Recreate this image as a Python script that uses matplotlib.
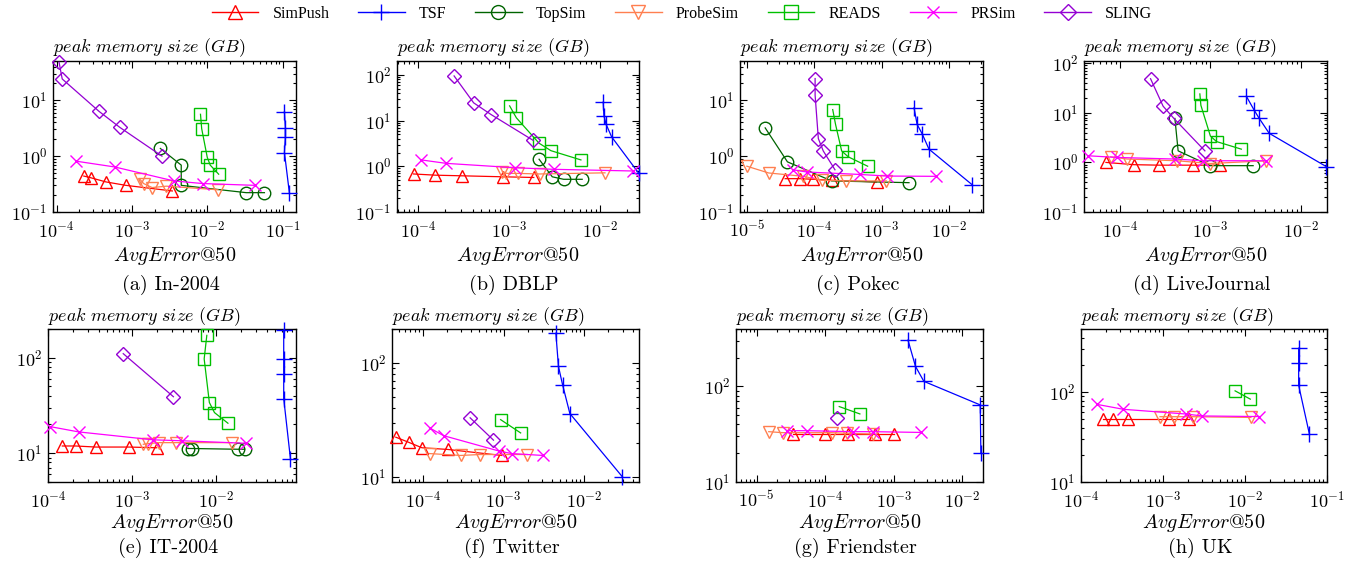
import math
import matplotlib
matplotlib.use("Agg")
import matplotlib.pyplot as plt
from matplotlib.ticker import LogLocator, NullFormatter, FuncFormatter
from matplotlib.lines import Line2D

plt.rcParams['mathtext.fontset'] = 'cm'
plt.rcParams['axes.unicode_minus'] = False

# ---------------------------------------------------------------------------
# data: AvgError@50 (x) and peak memory in GB (y), per dataset and method
# ---------------------------------------------------------------------------
methods = ["SimPush", "TSF", "TopSim", "ProbeSim", "READS", "PRSim", "SLING"]

in2004_err = {
    "SimPush": [2.3e-4, 2.85e-4, 4.5e-4, 8.3e-4, 3.43e-3],
    "TSF": [0.105, 0.108, 0.108, 0.105, 0.122],
    "TopSim": [2.38e-3, 4.5e-3, 4.5e-3, 0.0327, 0.057],
    "ProbeSim": [1.27e-3, 1.43e-3, 1.85e-3, 2.86e-3, 0.0138],
    "READS": [8.1e-3, 8.4e-3, 9.96e-3, 0.0109, 0.0141],
    "PRSim": [1.84e-4, 5.9e-4, 3.6e-3, 8.7e-3, 0.043],
    "SLING": [1.08e-4, 1.19e-4, 3.67e-4, 6.9e-4, 2.5e-3],
}
in2004_mem = {
    "SimPush": [0.44, 0.41, 0.346, 0.30, 0.238],
    "TSF": [6.25, 3.2, 2.2, 1.16, 0.222],
    "TopSim": [1.37, 0.69, 0.30, 0.222, 0.222],
    "ProbeSim": [0.387, 0.323, 0.274, 0.29, 0.25],
    "READS": [5.6, 3.1, 0.95, 0.69, 0.475],
    "PRSim": [0.81, 0.64, 0.36, 0.323, 0.30],
    "SLING": [48, 24, 6.3, 3.27, 1.0],
}

dblp_err = {
    "SimPush": [8.96e-5, 1.56e-4, 3.05e-4, 8.6e-4, 1.88e-3],
    "TSF": [0.0109, 0.0111, 0.0117, 0.0135, 0.0269],
    "TopSim": [2.15e-3, 3.0e-3, 4.0e-3, 6.4e-3],
    "ProbeSim": [8.5e-4, 9.4e-4, 1.26e-3, 2.18e-3, 0.0114],
    "READS": [1.02e-3, 1.21e-3, 2.15e-3, 2.9e-3, 6.2e-3],
    "PRSim": [1.09e-4, 2.05e-4, 1.18e-3, 3.1e-3, 0.0233],
    "SLING": [2.5e-4, 4.1e-4, 6.4e-4, 1.85e-3],
}
dblp_mem = {
    "SimPush": [0.68, 0.64, 0.62, 0.59, 0.57],
    "TSF": [25.4, 12.9, 8.4, 4.4, 0.70],
    "TopSim": [1.43, 0.59, 0.52, 0.52],
    "ProbeSim": [0.76, 0.70, 0.70, 0.68, 0.72],
    "READS": [21, 11.5, 3.2, 2.2, 1.38],
    "PRSim": [1.38, 1.16, 0.93, 0.86, 0.79],
    "SLING": [95, 24.5, 13.5, 3.7],
}

pokec_err = {
    "SimPush": [3.7e-5, 6.2e-5, 9.7e-5, 1.81e-4, 8.4e-4],
    "TSF": [3.03e-3, 3.36e-3, 3.98e-3, 5.05e-3, 0.0219],
    "TopSim": [1.87e-5, 4.0e-5, 1.81e-4, 2.55e-3],
    "ProbeSim": [1.0e-5, 2.1e-5, 6.9e-5, 1.29e-4, 3.0e-4, 1.18e-3],
    "READS": [1.88e-4, 2.07e-4, 2.55e-4, 3.2e-4, 6.2e-4],
    "PRSim": [4.8e-5, 7.7e-5, 4.75e-4, 1.21e-3, 6.5e-3],
    "SLING": [1.03e-4, 1.03e-4, 1.15e-4, 1.36e-4, 2.03e-4],
}
pokec_mem = {
    "SimPush": [0.395, 0.395, 0.385, 0.37, 0.345],
    "TSF": [7.3, 3.7, 2.53, 1.33, 0.31],
    "TopSim": [3.2, 0.79, 0.36, 0.335],
    "ProbeSim": [0.66, 0.50, 0.435, 0.37, 0.36, 0.36],
    "READS": [6.8, 3.7, 1.24, 0.97, 0.66],
    "PRSim": [0.57, 0.52, 0.47, 0.44, 0.435],
    "SLING": [24.4, 12.3, 2.06, 1.24, 0.57],
}

lj_err = {
    "SimPush": [7.0e-5, 1.43e-4, 2.72e-4, 6.46e-4, 1.27e-3],
    "TSF": [2.5e-3, 3.05e-3, 3.47e-3, 4.47e-3, 0.0192],
    "TopSim": [4.05e-4, 4.4e-4, 9.9e-4, 2.97e-3],
    "ProbeSim": [7.9e-5, 1.2e-4, 4.3e-4, 9.9e-4, 4.17e-3],
    "READS": [7.65e-4, 7.85e-4, 1.0e-3, 1.17e-3, 2.2e-3],
    "PRSim": [4.47e-5, 9.2e-5, 4.05e-4, 8.3e-4, 4.1e-3],
    "SLING": [2.18e-4, 3.0e-4, 3.95e-4, 8.7e-4],
}
lj_mem = {
    "SimPush": [1.0, 0.9, 0.88, 0.88, 0.88],
    "TSF": [21.5, 11.3, 7.7, 3.86, 0.82],
    "TopSim": [7.7, 1.71, 0.86, 0.86],
    "ProbeSim": [1.3, 1.17, 1.08, 0.95, 1.08],
    "READS": [24, 14.2, 3.4, 2.63, 1.85],
    "PRSim": [1.36, 1.26, 1.17, 1.08, 1.08],
    "SLING": [48.6, 13.6, 7.7, 1.71],
}

it2004_err = {
    "SimPush": [1.48e-4, 2.14e-4, 3.7e-4, 9.2e-4, 1.96e-3],
    "TSF": [0.0636, 0.0636, 0.0636, 0.0636, 0.0764],
    "TopSim": [4.6e-3, 5.1e-3, 0.018, 0.0218],
    "ProbeSim": [1.36e-3, 1.56e-3, 2.11e-3, 3.33e-3, 0.0154],
    "READS": [7.74e-3, 7.2e-3, 8.3e-3, 9.55e-3, 0.0138],
    "PRSim": [1.05e-4, 2.32e-4, 1.79e-3, 3.9e-3, 0.0228],
    "SLING": [7.85e-4, 3.1e-3],
}
it2004_mem = {
    "SimPush": [11.9, 11.9, 11.6, 11.6, 11.4],
    "TSF": [195, 97.7, 67, 37.3, 8.8],
    "TopSim": [11.2, 11.2, 11.0, 11.0],
    "ProbeSim": [12.4, 12.6, 12.9, 12.9, 12.9],
    "READS": [171, 97, 33.9, 26.6, 20.6],
    "PRSim": [19, 16.7, 13.8, 13.5, 12.7],
    "SLING": [110, 39],
}

twitter_err = {
    "SimPush": [4.6e-5, 6.65e-5, 9.7e-5, 2.02e-4, 9.5e-4],
    "TSF": [4.46e-3, 4.8e-3, 5.4e-3, 6.65e-3, 0.0298],
    "TopSim": [],
    "ProbeSim": [1.21e-4, 2.95e-4, 5.1e-4, 1.97e-3],
    "READS": [9.2e-4, 1.63e-3],
    "PRSim": [1.21e-4, 1.8e-4, 8.9e-4, 1.26e-3, 3.1e-3],
    "SLING": [3.85e-4, 7.5e-4],
}
twitter_mem = {
    "SimPush": [22.3, 20.1, 18.0, 17.4, 15.4],
    "TSF": [183, 93.5, 64.5, 36, 10],
    "TopSim": [],
    "ProbeSim": [16.0, 15.4, 15.7, 15.7],
    "READS": [31.8, 24.3],
    "PRSim": [26.9, 23, 16.8, 16.0, 15.4],
    "SLING": [33, 21],
}

friendster_err = {
    "SimPush": [3.4e-5, 9.9e-5, 2.17e-4, 5.3e-4, 9.9e-4],
    "TSF": [1.61e-3, 2.07e-3, 2.74e-3, 0.0182, 0.0186],
    "TopSim": [],
    "ProbeSim": [1.5e-5, 2.4e-5, 1.24e-4, 2.05e-4, 5.05e-4],
    "READS": [1.6e-4, 3.2e-4],
    "PRSim": [2.79e-5, 5.4e-5, 2.57e-4, 4.94e-4, 2.45e-3],
    "SLING": [1.46e-4],
}
friendster_mem = {
    "SimPush": [31.5, 31.5, 31.5, 31.5, 31.5],
    "TSF": [305, 162, 113, 64, 20.2],
    "TopSim": [],
    "ProbeSim": [33.6, 32.8, 32.8, 32.3, 31.8],
    "READS": [61.5, 51.5],
    "PRSim": [34.4, 34.4, 33.6, 33.6, 33],
    "SLING": [47.2],
}

uk_err = {
    "SimPush": [1.86e-4, 2.46e-4, 3.72e-4, 1.18e-3, 2.07e-3],
    "TSF": [0.0451, 0.0451, 0.0451, 0.0608],
    "TopSim": [],
    "ProbeSim": [9.2e-4, 1.36e-3, 2.34e-3, 0.0118],
    "READS": [7.57e-3, 0.0116],
    "PRSim": [1.57e-4, 3.3e-4, 1.89e-3, 3.02e-3, 0.0149],
    "SLING": [],
}
uk_mem = {
    "SimPush": [50, 50, 50, 50, 50],
    "TSF": [305, 210, 118, 34.3],
    "TopSim": [],
    "ProbeSim": [53, 53, 53, 52],
    "READS": [102.6, 83],
    "PRSim": [72.6, 64, 56.8, 54, 53.2],
    "SLING": [],
}

captions = ["(a) In-2004", "(b) DBLP", "(c) Pokec", "(d) LiveJournal",
            "(e) IT-2004", "(f) Twitter", "(g) Friendster", "(h) UK"]

# ---------------------------------------------------------------------------
# styles and layout
# ---------------------------------------------------------------------------
style = {
    "SimPush": dict(color="#ff0000", marker="^", ms=9),
    "TSF": dict(color="#0000ff", marker="+", ms=11),
    "TopSim": dict(color="#006400", marker="o", ms=9),
    "ProbeSim": dict(color="#ff7f50", marker="v", ms=9),
    "READS": dict(color="#00c000", marker="s", ms=9),
    "PRSim": dict(color="#ff00ff", marker="x", ms=8),
    "SLING": dict(color="#9400d3", marker="D", ms=7),
}

panels = [
    (in2004_err, in2004_mem, [0.0389, 0.6234, 0.1782, 0.268], (9e-5, 0.15), (0.1, 50)),
    (dblp_err, dblp_mem, [0.2911, 0.6234, 0.1774, 0.268], (5.9e-5, 0.027), (0.1, 200)),
    (pokec_err, pokec_mem, [0.5425, 0.6234, 0.1782, 0.268], (7.9e-6, 0.032), (0.1, 50)),
    (lj_err, lj_mem, [0.7947, 0.6234, 0.1782, 0.268], (4e-5, 0.0195), (0.1, 110)),
    (it2004_err, it2004_mem, [0.0352, 0.1439, 0.1818, 0.272], (1e-4, 0.089), (5, 200)),
    (twitter_err, twitter_mem, [0.2874, 0.1439, 0.1811, 0.272], (4.13e-5, 0.048), (9, 200)),
    (friendster_err, friendster_mem, [0.5396, 0.1439, 0.1811, 0.272], (5e-6, 0.02), (10, 400)),
    (uk_err, uk_mem, [0.7925, 0.1439, 0.1804, 0.272], (1e-4, 0.1), (10, 500)),
]


def decade_label(v, pos):
    return r"$\mathrm{10^{%d}}$" % round(math.log10(v))


fig = plt.figure(figsize=(13.64, 5.63), dpi=100)

for i, (err, mem, pos, xl, yl) in enumerate(panels):
    ax = fig.add_axes(pos)
    for m in methods:
        if not err[m]:
            continue
        st = style[m]
        ax.plot(err[m], mem[m], color=st["color"], marker=st["marker"],
                markersize=st["ms"], markerfacecolor="none",
                markeredgecolor=st["color"], markeredgewidth=1.0,
                linewidth=0.9, clip_on=False, zorder=3)
    ax.set_xscale("log")
    ax.set_yscale("log")
    ax.set_xlim(*xl)
    ax.set_ylim(*yl)
    for axis in (ax.xaxis, ax.yaxis):
        axis.set_major_locator(LogLocator(base=10, numticks=10))
        axis.set_minor_locator(LogLocator(base=10, subs=range(2, 10), numticks=20))
        axis.set_major_formatter(FuncFormatter(decade_label))
        axis.set_minor_formatter(NullFormatter())
    ax.tick_params(which="both", direction="in", top=True, right=True,
                   labelsize=13, width=0.8)
    ax.tick_params(which="major", length=5)
    ax.tick_params(which="minor", length=2.5)
    ax.tick_params(axis="x", pad=6)
    ax.tick_params(axis="y", pad=4)
    for sp in ax.spines.values():
        sp.set_linewidth(1.0)

    top_row = i < 4
    ax.annotate(r"$\mathit{peak\ memory\ size\ (GB)}$", xy=(0, 1),
                xycoords="axes fraction", xytext=(0, 10 if top_row else 8.5),
                textcoords="offset points", ha="left", va="center", fontsize=13)
    ax.annotate(r"$\mathit{AvgError}$" + "@" + r"$\mathit{50}$", xy=(0.5, 0),
                xycoords="axes fraction", xytext=(0, -31.5 if top_row else -29.5),
                textcoords="offset points", ha="center", va="center",
                fontsize=14.5, family="cmr10")
    ax.annotate(captions[i], xy=(0.5, 0), xycoords="axes fraction",
                xytext=(-3, -52.5 if top_row else -47.5), textcoords="offset points",
                ha="center", va="center", fontsize=14.5, family="cmr10")

handles = [Line2D([], [], color=style[m]["color"], marker=style[m]["marker"],
                  markersize=style[m]["ms"] + 1, markerfacecolor="none",
                  markeredgewidth=1.0, linewidth=1.0) for m in methods]
fig.legend(handles, methods, loc="center", bbox_to_anchor=(0.5, 0.975),
           ncol=7, frameon=False, handlelength=2.9, handletextpad=0.9,
           columnspacing=1.8, prop={"family": "Liberation Serif", "size": 11.5})

fig.savefig("out.png", dpi=100)
